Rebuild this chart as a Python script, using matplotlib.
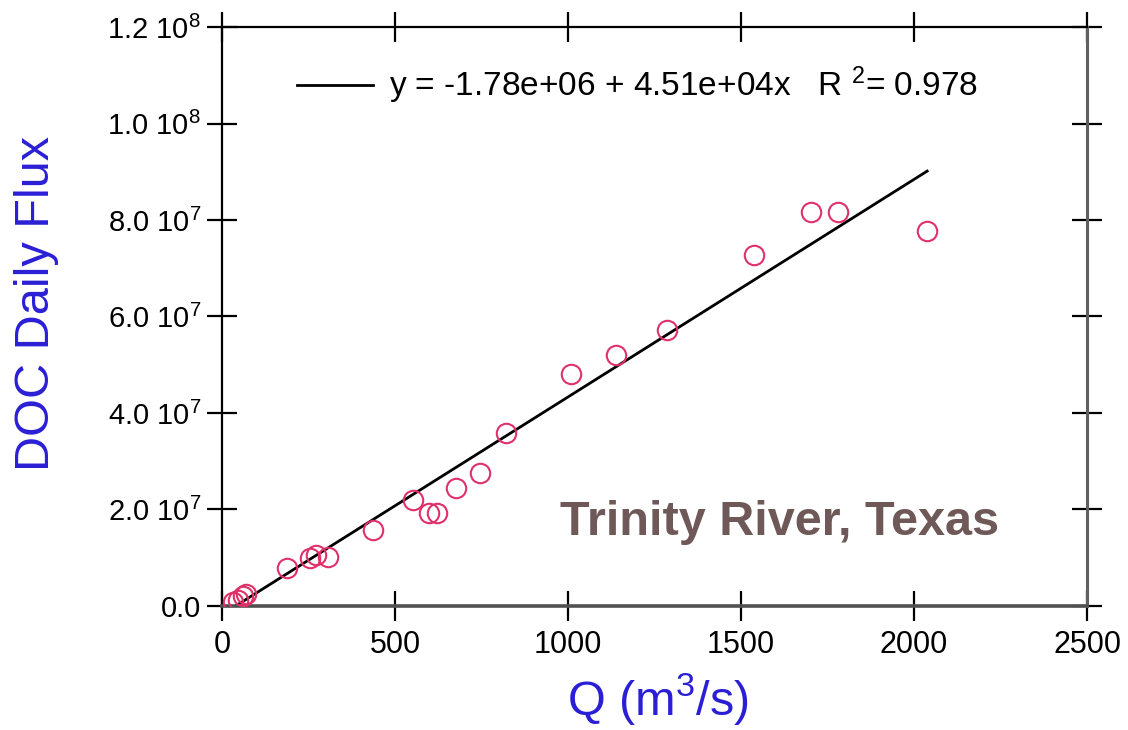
import matplotlib
matplotlib.use("Agg")
import matplotlib.pyplot as plt
import numpy as np

# discharge (m3/s) and DOC daily flux
q_values = [32, 46, 61, 69, 188, 254, 272, 306, 437, 552, 598, 621,
            676, 746, 821, 1009, 1139, 1286, 1538, 1702, 1780, 2038]
doc_flux = [0.8e6, 1.2e6, 2.1e6, 2.5e6, 7.9e6, 9.9e6, 10.6e6, 10.2e6,
            15.8e6, 22.0e6, 19.3e6, 19.3e6, 24.5e6, 27.5e6, 35.9e6,
            48.1e6, 52.0e6, 57.2e6, 72.7e6, 81.7e6, 81.7e6, 77.7e6]

fit_intercept = -1.78e6
fit_slope = 4.51e4
fit_r2 = 0.978

x_ticks = [0, 500, 1000, 1500, 2000, 2500]
y_ticks = [0, 2e7, 4e7, 6e7, 8e7, 1e8, 1.2e8]
y_tick_labels = ["0.0", r"2.0 $\mathregular{10^{7}}$", r"4.0 $\mathregular{10^{7}}$",
                 r"6.0 $\mathregular{10^{7}}$", r"8.0 $\mathregular{10^{7}}$",
                 r"1.0 $\mathregular{10^{8}}$", r"1.2 $\mathregular{10^{8}}$"]

plt.rcParams["font.family"] = ["Liberation Sans", "DejaVu Sans"]
plt.rcParams["mathtext.fontset"] = "custom"
plt.rcParams["mathtext.rm"] = "Liberation Sans"

fig = plt.figure(figsize=(11.28, 7.3), dpi=100)
ax = fig.add_axes([0.1968, 0.1699, 0.7669, 0.7931])

fit_x = np.array([min(q_values), max(q_values)])
fit_y = fit_intercept + fit_slope * fit_x
label = ("y = -1.78e+06 + 4.51e+04x   R $\\mathregular{^{2}}$= %.3f" % fit_r2)
ax.plot(fit_x, fit_y, color="black", lw=2, label=label, zorder=2)
ax.plot(q_values, doc_flux, linestyle="none", marker="o", markersize=14,
        markerfacecolor="none", markeredgecolor="#e0306a", markeredgewidth=1.5,
        zorder=3)

ax.set_xlim(0, 2500)
ax.set_ylim(0, 1.2e8)
ax.set_xticks(x_ticks)
ax.set_xticklabels([str(t) for t in x_ticks])
ax.set_yticks(y_ticks)
ax.set_yticklabels(y_tick_labels)

ax.spines["left"].set_linewidth(1.6)
ax.spines["top"].set_linewidth(1.6)
ax.spines["bottom"].set_linewidth(2.6)
ax.spines["bottom"].set_color("#505050")
ax.spines["right"].set_linewidth(2.2)
ax.spines["right"].set_color("#606060")
ax.tick_params(axis="both", direction="inout", length=22, width=1.6,
               top=True, right=True)
ax.tick_params(axis="x", labelsize=22, pad=6)
ax.tick_params(axis="y", labelsize=21, pad=4)

ax.set_xlabel("Q (m$\\mathregular{^{3}}$/s)", fontsize=35, color="#2b1fd6")
ax.xaxis.set_label_coords(0.504, -0.112)
ax.set_ylabel("DOC Daily Flux", fontsize=35, color="#2b1fd6")
ax.yaxis.set_label_coords(-0.188, 0.523)

ax.text(0.645, 0.145, "Trinity River, Texas", transform=ax.transAxes,
        fontsize=35, fontweight="bold", color="#6e5858", ha="center",
        va="center")

ax.legend(loc="upper left", bbox_to_anchor=(0.0867, 0.935), frameon=False,
          fontsize=24, handlelength=2.27, handletextpad=0.48, borderpad=0,
          borderaxespad=0)

fig.savefig("out.png", dpi=100)
